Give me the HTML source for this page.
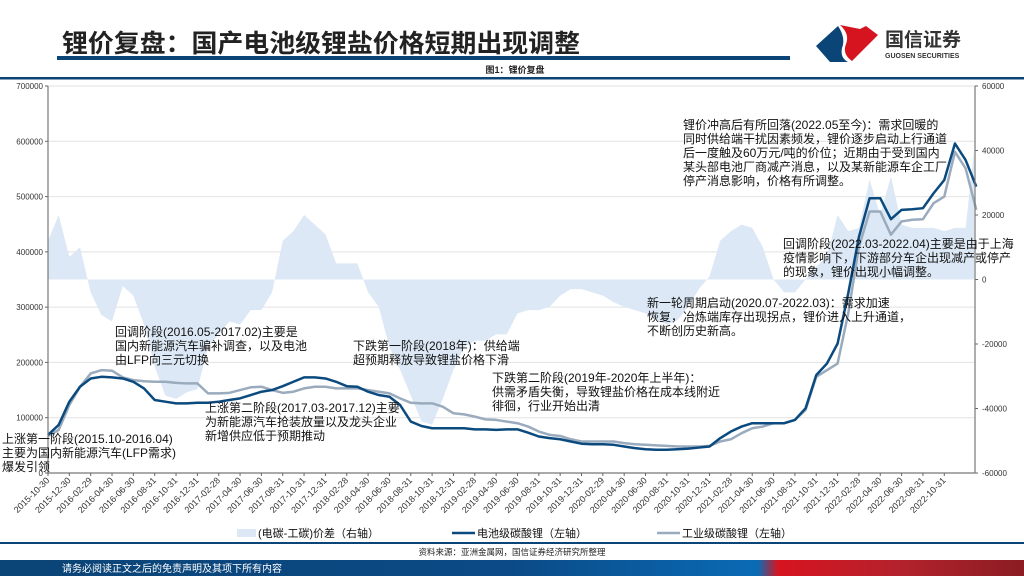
<!DOCTYPE html>
<html><head><meta charset="utf-8"><style>
html,body{margin:0;padding:0;background:#fff;}
body{width:1024px;height:576px;overflow:hidden;position:relative;font-family:"Liberation Sans","Noto Sans CJK SC",sans-serif;}
svg text{font-family:"Liberation Sans","Noto Sans CJK SC",sans-serif;}
</style></head><body>
<svg id="chart" width="1024" height="576" viewBox="0 0 1024 576" xmlns="http://www.w3.org/2000/svg">
<defs>
<linearGradient id="footg" x1="0" x2="1" y1="0" y2="0">
<stop offset="0" stop-color="#0b4476"/><stop offset="0.5" stop-color="#0b4a86"/><stop offset="0.74" stop-color="#0a6bb5"/><stop offset="0.76" stop-color="#d61420"/><stop offset="0.88" stop-color="#b3222c"/><stop offset="1" stop-color="#8b1c22"/>
</linearGradient>
</defs>
<text x="62" y="52" font-size="25" font-weight="bold" fill="#222" textLength="518" lengthAdjust="spacingAndGlyphs">锂价复盘：国产电池级锂盐价格短期出现调整</text>
<rect x="57" y="56" width="733" height="4" fill="#0b4476"/>
<g>
<path d="M816,46 L838,26 Q846,38 842,48 Q840,58 848,62 L830,62 Z" fill="#0b4476"/>
<path d="M840,25 L860,29 L866,26 L878,35 L852,61 Q842,54 846,44 Q850,34 840,25 Z" fill="#d61420"/>
<text x="885" y="46" font-size="19" font-weight="bold" fill="#333">国信证券</text>
<text x="885" y="58" font-size="7" font-weight="bold" fill="#333">GUOSEN SECURITIES</text>
</g>
<text x="515" y="73" font-size="9" font-weight="bold" fill="#222" text-anchor="middle">图1：锂价复盘</text>
<rect x="0" y="77" width="1024" height="2.5" fill="#0b4476"/>
<g id="grid"></g>
<g id="area"></g>
<g id="lines"></g>
<g id="axes"></g>
<g id="ann" font-size="12" fill="#111"></g>
<g font-size="11" fill="#111">
<rect x="237" y="529" width="19" height="8" fill="#dce8f5"/>
<text x="258" y="537">(电碳-工碳)价差（右轴）</text>
<line x1="452" y1="533" x2="475" y2="533" stroke="#0b4a7e" stroke-width="2.5"/>
<text x="477" y="537">电池级碳酸锂（左轴）</text>
<line x1="657" y1="533" x2="680" y2="533" stroke="#9aabbd" stroke-width="2.5"/>
<text x="682" y="537">工业级碳酸锂（左轴）</text>
</g>
<rect x="0" y="542" width="1024" height="2" fill="#0b4476"/>
<text x="512" y="555" font-size="8.5" fill="#222" text-anchor="middle">资料来源：亚洲金属网，国信证券经济研究所整理</text>
<rect x="0" y="560" width="1024" height="16" fill="url(#footg)"/>
<text x="62" y="572" font-size="10" fill="#fff">请务必阅读正文之后的免责声明及其项下所有内容</text>
</svg>
<script>
const xLabels=["2015-10-30","2015-12-30","2016-02-29","2016-04-30","2016-06-30","2016-08-31","2016-10-31","2016-12-31","2017-02-28","2017-04-30","2017-06-30","2017-08-31","2017-10-31","2017-12-31","2018-02-28","2018-04-30","2018-06-30","2018-08-31","2018-10-31","2018-12-31","2019-02-28","2019-04-30","2019-06-30","2019-08-31","2019-10-31","2019-12-31","2020-02-29","2020-04-30","2020-06-30","2020-08-31","2020-10-31","2020-12-31","2021-02-28","2021-04-30","2021-06-30","2021-08-31","2021-10-31","2021-12-31","2022-02-28","2022-04-30","2022-06-30","2022-08-31","2022-10-31"];
const leftTicks=[0,100000,200000,300000,400000,500000,600000,700000];
const rightTicks=[-60000,-40000,-20000,0,20000,40000,60000];
// monthly values, index 0 = 2015-10
const battery=[69,87,129,156,171,174,173,171,165,153,132,129,126,126,127,127,129,132,135,141,147,150,157,165,173,173,171,165,157,156,147,141,138,123,93,85,81,81,81,81,79,79,78,79,79,73,66,63,61,57,53,52,52,51,48,45,43,42,42,43,44,46,48,63,75,84,90,90,90,90,96,117,177,198,234,325,427,497,497,459,476,477,479,506,530,596,566,518];
const industrial=[67,78,123,156,180,186,185,173,168,166,165,165,163,162,162,144,144,145,150,155,156,150,145,147,153,156,156,153,153,153,150,147,144,135,127,126,126,120,108,106,102,97,96,93,90,84,75,69,67,61,57,57,57,57,54,52,51,50,49,48,48,48,49,57,61,72,81,84,90,90,96,114,174,186,198,289,409,473,473,431,455,458,459,488,500,581,551,476];
const spread=[12,20,7,10,-4,-11,-13,-2,-5,-14,-27,-36,-37,-35,-34,-21,-17,-13,-14,-9.5,-9.5,-4,12,15,20,17,14,5,5,5,-4,-8.5,-21,-28,-36,-44,-45,-37,-28,-21,-19,-19,-17,-17,-10.5,-9.5,-9.5,-8.5,-5,-3,-3,-4,-5,-7,-8.5,-9.5,-10.5,-12.6,-14,-12.6,-8.5,-3,1,12,15,17,16,10,0,-4,-4,0,4,7,20,15,16,31,20,32,17,16,16,16,15,16,16,40];
const X0=48,X1=975,Y0=473,Y1=86,MW=10.67;
const xOf=m=>X0+m*MW;
const yL=v=>Y0-(v*1000)/700000*(Y0-Y1);
const yR=v=>(Y0+Y1)/2-(v*1000)/60000*((Y0-Y1)/2);
const NS="http://www.w3.org/2000/svg";
function mk(tag,attrs,parent){const e=document.createElementNS(NS,tag);for(const k in attrs)e.setAttribute(k,attrs[k]);parent.appendChild(e);return e;}
const grid=document.getElementById('grid'),axes=document.getElementById('axes'),area=document.getElementById('area'),lines=document.getElementById('lines'),ann=document.getElementById('ann');
leftTicks.forEach(t=>{const y=Y0-t/700000*(Y0-Y1);
 if(t>0){const g=mk('line',{x1:X0,x2:X1,y1:y,y2:y,stroke:'#e2e2e2','stroke-width':1},grid);
 
 }
 const tl=mk('text',{x:X0-5,y:y+3,'font-size':8,'text-anchor':'end',fill:'#333'},axes);tl.textContent=t;
 
 
 mk('line',{x1:X0-3,x2:X0,y1:y,y2:y,stroke:'#666'},axes);});
rightTicks.forEach(t=>{const y=(Y0+Y1)/2-t/60000*((Y0-Y1)/2);
 const tl=mk('text',{x:X1+7,y:y+3,'font-size':8,fill:'#333'},axes);tl.textContent=t;
 
 
 mk('line',{x1:X1,x2:X1+3,y1:y,y2:y,stroke:'#666'},axes);});
let d='M'+xOf(0)+','+yR(0);
spread.forEach((v,i)=>{d+=' L'+Math.min(xOf(i),X1-1)+','+yR(v);});
d+=' L'+(X1-1)+','+yR(0)+' Z';
const ap=mk('path',{d:d,fill:'#dce8f5',stroke:'none'},area);


function line(arr,color,w,name){let p='';arr.forEach((v,i)=>{p+=(i?' L':'M')+xOf(i)+','+yL(v);});
 const l=mk('path',{d:p,fill:'none',stroke:color,'stroke-width':w,'stroke-linejoin':'round'},lines);
 
 }
line(industrial,'#9aabbd',2.5,'industrial-lithium-line');
line(battery,'#0b4a7e',2.5,'battery-lithium-line');
mk('line',{x1:X0,x2:X0,y1:Y1,y2:Y0,stroke:'#777','stroke-width':1.2},axes);
mk('line',{x1:X1,x2:X1,y1:Y1,y2:Y0,stroke:'#777','stroke-width':1.2},axes);
mk('line',{x1:X0,x2:X1,y1:Y0,y2:Y0,stroke:'#777','stroke-width':1.2},axes);
xLabels.forEach((s,i)=>{const x=xOf(i*2);mk('line',{x1:x,x2:x,y1:Y0,y2:Y0+3,stroke:'#666'},axes);
 const t=mk('text',{x:x+2,y:Y0+8,'font-size':9,'text-anchor':'end',fill:'#333',transform:'rotate(-45 '+(x+2)+' '+(Y0+8)+')'},axes);t.textContent=s;
 
 });
const notes=[
 [2,443,["上涨第一阶段(2015.10-2016.04)","主要为国内新能源汽车(LFP需求)","爆发引领"],'annotation-rise-1'],
 [115,336,["回调阶段(2016.05-2017.02)主要是","国内新能源汽车骗补调查，以及电池","由LFP向三元切换"],'annotation-pullback-1'],
 [205,412,["上涨第二阶段(2017.03-2017.12)主要","为新能源汽车抢装放量以及龙头企业","新增供应低于预期推动"],'annotation-rise-2'],
 [353,350,["下跌第一阶段(2018年)：供给端","超预期释放导致锂盐价格下滑"],'annotation-fall-1'],
 [492,382,["下跌第二阶段(2019年-2020年上半年)：","供需矛盾失衡，导致锂盐价格在成本线附近","徘徊，行业开始出清"],'annotation-fall-2'],
 [647,307,["新一轮周期启动(2020.07-2022.03)：需求加速","恢复，冶炼端库存出现拐点，锂价进入上升通道，","不断创历史新高。"],'annotation-new-cycle'],
 [783,248,["回调阶段(2022.03-2022.04)主要是由于上海","疫情影响下，下游部分车企出现减产或停产","的现象，锂价出现小幅调整。"],'annotation-pullback-2'],
 [683,129,["锂价冲高后有所回落(2022.05至今)：需求回暖的","同时供给端干扰因素频发，锂价逐步启动上行通道","后一度触及60万元/吨的价位；近期由于受到国内","某头部电池厂商减产消息，以及某新能源车企工厂","停产消息影响，价格有所调整。"],'annotation-peak']];
notes.forEach(n=>{const t=mk('text',{x:n[0],y:n[1]},ann);
 
 
 n[2].forEach((s,i)=>{const ts=mk('tspan',{x:n[0],dy:i?14:0},t);ts.textContent=s;});});
</script>
</body></html>
